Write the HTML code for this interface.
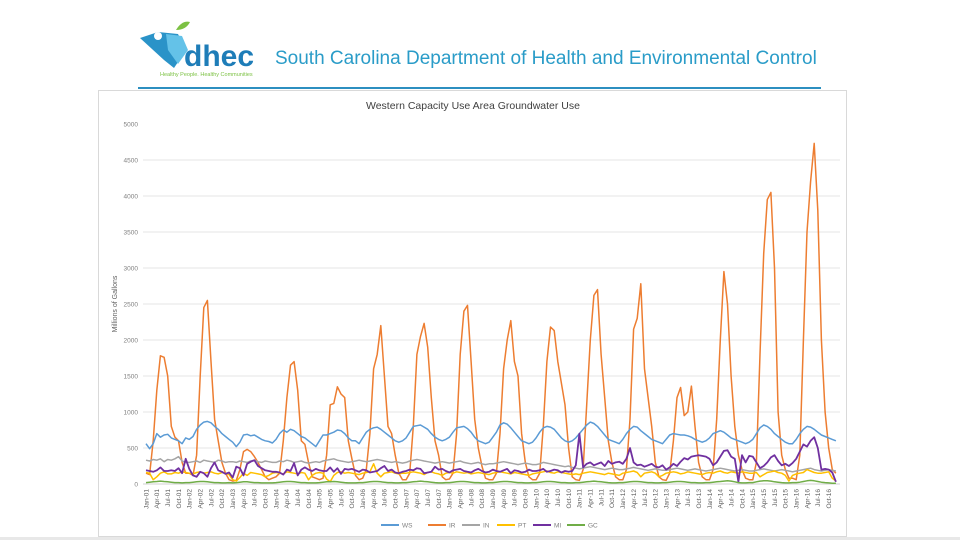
<!DOCTYPE html>
<html><head><meta charset="utf-8">
<style>
body{margin:0;width:960px;height:540px;background:#fff;position:relative;overflow:hidden;font-family:"Liberation Sans",sans-serif}
#panel{position:absolute;left:98px;top:90px;width:749px;height:447px;border:1px solid #d9d9d9;box-sizing:border-box;background:#fff}
#strip{position:absolute;left:0;top:537px;width:960px;height:3px;background:#e8e8e8}
svg text{font-family:"Liberation Sans",sans-serif}
</style></head><body>
<div style="position:absolute;left:138px;top:20px;width:124px;height:60px">
<svg width="124" height="60">
<path d="M2 18 L20 12 L40 14 L48 30 L36 48 L26 40 Z" fill="#2a93c8"/>
<path d="M28 14 L44 16 L50 30 L40 44 L30 30 Z" fill="#64c2e8"/>
<circle cx="20" cy="16" r="4" fill="#fff"/>
<path d="M38 10 Q44 0 52 2 Q48 10 38 10Z" fill="#7cc143"/>
<text x="46" y="46" font-size="30" font-weight="bold" fill="#1e7db8">dhec</text>
<text x="22" y="56" font-size="5.5" fill="#7cc143">Healthy People. Healthy Communities</text>
</svg></div>
<div style="position:absolute;left:275px;top:48px;font-size:19px;color:#2a9cc8;white-space:nowrap">South Carolina Department of Health and Environmental Control</div>
<div style="position:absolute;left:138px;top:87px;width:683px;height:2px;background:#2c8fc0"></div>
<div id="panel"></div>
<div id="strip"></div>
<svg id="chart" width="960" height="540" style="position:absolute;left:0;top:0"></svg>
<script>
const seriesNames=["WS","IR","IN","PT","MI","GC"];
const seriesColors=["#5b9bd5","#ed7d31","#a5a5a5","#ffc000","#7030a0","#70ad47"];
const yTicks=[0,500,1000,1500,2000,2500,3000,3500,4000,4500,5000];
const monthNames=["Jan","Apr","Jul","Oct"];
const ws=[560,490,560,700,650,680,690,640,620,600,560,640,
620,660,760,820,860,870,850,800,760,700,660,620,
580,520,580,680,690,670,680,650,620,600,590,570,
620,700,750,720,760,740,700,660,640,600,560,520,
600,680,680,700,720,750,740,700,640,600,600,560,
640,720,760,780,790,760,720,680,640,600,580,600,
640,720,800,810,820,790,760,700,650,620,600,620,
650,720,780,790,800,770,720,650,600,580,560,580,
650,720,820,850,830,780,720,660,600,580,560,580,
640,720,780,800,790,760,700,640,600,580,600,640,
700,760,820,860,840,800,740,680,620,600,580,560,
620,700,760,800,790,740,700,660,620,600,580,560,
620,680,700,690,680,680,670,650,620,600,580,600,
640,700,720,740,720,680,640,620,600,580,560,580,
620,700,780,820,800,760,700,660,620,580,560,560,
620,700,760,800,790,760,720,680,660,640,620,600];
const ir=[150,130,600,1300,1780,1760,1500,800,650,600,300,150,
150,120,400,1500,2450,2550,1700,900,600,300,150,60,
40,50,200,450,480,450,380,300,200,100,60,80,
100,150,600,1200,1650,1700,1300,600,550,300,100,80,
60,80,400,1100,1120,1350,1250,1200,600,350,120,60,
80,200,700,1600,1800,2200,1500,800,700,400,150,60,
60,150,800,1800,2050,2230,1900,1200,600,400,100,60,
70,150,700,1800,2400,2480,1700,900,500,250,80,60,
60,150,700,1600,2000,2270,1700,1500,700,300,100,60,
60,150,800,1700,2180,2130,1700,1400,1100,500,100,60,
50,200,1100,2000,2620,2700,1800,1200,600,300,100,60,
60,200,900,2150,2300,2780,1600,1200,800,300,100,60,
50,150,600,1200,1340,950,1000,1360,800,300,100,60,
60,200,900,2000,2950,2500,1500,800,400,200,80,60,
60,300,1800,3200,3950,4050,3000,1000,400,200,80,80,
60,400,2000,3500,4200,4730,3800,2000,1000,500,200,150];
const inds=[330,320,340,330,350,310,340,330,350,380,320,300,
300,310,320,300,330,320,310,300,330,320,300,310,
310,300,320,310,300,320,330,310,300,320,310,300,
300,320,310,330,320,300,310,320,300,290,300,310,
300,320,330,340,350,330,320,310,300,310,320,330,
320,310,320,330,340,330,320,310,300,310,300,290,
300,320,330,340,330,320,310,300,290,300,310,300,
290,300,310,320,300,290,280,290,300,280,270,280,
280,290,300,310,300,290,280,270,280,290,280,270,
270,280,300,290,280,270,260,250,240,250,230,220,
210,220,230,240,230,220,210,200,210,220,210,200,
200,210,220,230,220,210,200,190,200,210,200,190,
190,200,210,220,210,200,190,200,210,200,190,180,
190,200,210,220,210,200,190,180,190,200,190,180,
180,190,200,210,200,190,180,190,200,190,180,170,
180,190,200,210,220,200,190,180,190,200,190,180];
const pt=[160,150,60,100,150,170,140,140,160,150,170,160,
150,140,160,170,150,160,170,150,140,160,150,130,
60,40,90,150,120,160,150,140,130,100,120,150,
160,150,140,170,160,150,140,160,150,60,120,150,
160,150,70,30,120,160,170,150,160,150,140,130,
150,160,170,280,150,100,150,160,170,150,140,150,
150,160,170,160,150,130,160,170,150,140,120,150,
160,150,170,160,150,160,140,150,160,150,140,130,
150,160,170,160,150,140,160,150,140,130,120,140,
150,160,170,180,160,150,170,160,150,140,130,140,
130,150,160,170,160,150,140,130,150,140,130,120,
150,160,170,180,160,100,150,160,170,150,100,120,
150,160,170,160,140,150,170,160,150,140,130,150,
160,150,170,180,160,150,170,160,150,170,160,150,
150,160,100,130,160,170,180,160,150,120,40,120,
140,150,160,200,180,160,150,150,160,170,80,40];
const mi=[190,180,170,190,230,180,180,190,180,220,150,350,
210,120,100,170,150,100,220,300,190,170,140,160,
90,240,220,120,280,310,330,250,220,190,180,170,
170,160,130,200,180,290,120,200,230,200,180,210,
190,180,180,230,170,220,140,210,200,210,190,170,
200,190,160,170,180,220,250,180,200,160,150,170,
180,200,190,220,210,150,160,170,240,200,210,180,
160,190,200,210,180,170,160,190,210,180,160,170,
200,180,170,190,210,150,190,180,160,170,200,180,
180,190,210,170,180,200,190,160,180,170,180,260,
700,230,280,300,260,280,300,250,320,280,300,310,
280,350,500,300,260,270,240,260,280,240,230,260,
200,230,280,250,310,360,340,380,390,400,390,380,
350,260,300,380,460,470,380,350,30,400,300,390,
380,300,220,250,300,370,400,320,260,280,250,290,
350,450,550,520,600,650,500,200,210,200,160,30];
const gc=[20,25,30,35,40,35,30,25,20,20,15,20,
20,25,30,35,35,30,25,20,20,15,15,20,
15,20,25,30,30,25,20,20,15,15,15,15,
20,25,30,35,35,30,25,20,20,15,15,15,
20,25,30,30,35,30,25,20,15,15,15,20,
20,25,30,35,35,30,25,20,20,15,15,20,
20,25,30,35,40,35,30,25,20,15,15,20,
20,25,30,35,35,30,25,20,20,15,15,20,
20,25,30,35,35,30,25,20,20,15,15,20,
20,25,30,35,35,30,25,20,20,15,15,20,
20,25,30,35,40,35,30,25,20,15,15,20,
20,25,30,35,35,30,25,20,20,15,15,20,
20,25,30,35,35,30,25,20,20,15,15,20,
20,25,30,35,40,45,40,30,20,15,15,20,
20,30,40,45,45,40,30,25,20,15,15,20,
20,25,35,45,50,45,35,25,20,15,10,10];
const allSeries=[ws,ir,inds,pt,mi,gc];

const NS="http://www.w3.org/2000/svg";
const svg=document.getElementById("chart");
const X0=146,DX=3.612,Y0=484,YMAX=5000,YH=360;
function xPos(i){return X0+i*DX;}
function yPos(v){return Y0-v/YMAX*YH;}
function mk(tag,attrs,parent){const e=document.createElementNS(NS,tag);for(const k in attrs)e.setAttribute(k,attrs[k]);(parent||svg).appendChild(e);return e;}

const title=mk("text",{x:473,y:109,"font-size":"10.5","text-anchor":"middle",fill:"#404040"});


title.textContent="Western Capacity Use Area Groundwater Use";

yTicks.forEach(t=>{
  if(t>0&&t<5000){const g=mk("line",{x1:143,x2:840,y1:yPos(t),y2:yPos(t),stroke:"#e4e4e4","stroke-width":1});
  
  }
  const lb=mk("text",{x:138,y:yPos(t)+2.5,"font-size":"6.5","text-anchor":"end",fill:"#808080"});
  
  
  lb.textContent=t;
});
const ax=mk("line",{x1:143,x2:840,y1:Y0,y2:Y0,stroke:"#d0d0d0","stroke-width":1});



const yt=mk("text",{x:0,y:0,"font-size":"7","text-anchor":"middle",fill:"#606060",transform:"translate(117,304) rotate(-90)"});


yt.textContent="Millions of Gallons";

for(let i=0;i<ws.length;i+=3){
  const yr=String(1+Math.floor(i/12)).padStart(2,"0");
  const lab=monthNames[(i%12)/3]+"-"+yr;
  const tx=mk("text",{x:0,y:0,"font-size":"6.5","text-anchor":"end",fill:"#606060",transform:`translate(${xPos(i)+2.3},489) rotate(-90)`});
  
  
  tx.textContent=lab;
}

const drawOrder=[1,0,2,3,4,5];
drawOrder.forEach(s=>{
  const d=allSeries[s].map((v,i)=>(i?"L":"M")+xPos(i).toFixed(1)+" "+yPos(v).toFixed(1)).join(" ");
  const p=mk("path",{d:d,fill:"none",stroke:seriesColors[s],"stroke-width":s===4?1.8:1.5,"stroke-linejoin":"round"});
  
  
});

const lx=[381,428,462,497,533,567];
seriesNames.forEach((n,k)=>{
  const g=mk("g",{});
  
  
  mk("line",{x1:lx[k],x2:lx[k]+18,y1:525,y2:525,stroke:seriesColors[k],"stroke-width":2},g);
  const t=mk("text",{x:lx[k]+21,y:527.5,"font-size":"6.5",fill:"#808080"},g);
  t.textContent=n;
});
</script>
</body></html>
